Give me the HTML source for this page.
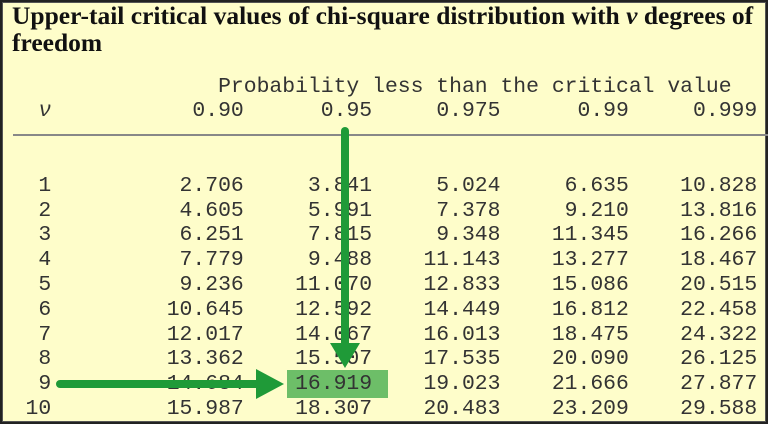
<!DOCTYPE html>
<html><head><style>
html,body{margin:0;padding:0;}
body{width:768px;height:424px;overflow:hidden;background:#222;}
#box{position:absolute;left:2px;top:2px;width:762px;height:418px;background:#fefdca;border:1px solid #555;}
.title{position:absolute;left:12px;top:2px;font-family:"Liberation Serif","DejaVu Serif",serif;font-weight:bold;font-size:25.5px;line-height:27px;color:#111;width:752px;white-space:nowrap;}
pre{position:absolute;left:12.7px;top:74.6px;margin:0;font:21.4px/24.8px "Liberation Mono",monospace;color:#333;}
.rule{position:absolute;left:13px;top:134px;width:760px;height:2px;background:#888;}
.hl{position:absolute;left:287px;top:370px;width:101px;height:28px;background:#6dbe68;}
svg{position:absolute;left:0;top:0;}
</style></head><body>
<div id="box"></div>
<div class="title">Upper-tail critical values of chi-square distribution with <i>ν</i> degrees of<br>freedom</div>
<div class="rule"></div>
<div class="hl"></div>
<pre>                Probability less than the critical value
  <i>ν</i>           0.90      0.95     0.975      0.99     0.999


  1          2.706     3.841     5.024     6.635    10.828
  2          4.605     5.991     7.378     9.210    13.816
  3          6.251     7.815     9.348    11.345    16.266
  4          7.779     9.488    11.143    13.277    18.467
  5          9.236    11.070    12.833    15.086    20.515
  6         10.645    12.592    14.449    16.812    22.458
  7         12.017    14.067    16.013    18.475    24.322
  8         13.362    15.507    17.535    20.090    26.125
  9         14.684    16.919    19.023    21.666    27.877
 10         15.987    18.307    20.483    23.209    29.588</pre>
<svg width="768" height="424">
<line x1="345" y1="131" x2="345" y2="345" stroke="#1f9a38" stroke-width="8" stroke-linecap="round"/>
<polygon points="330,343 360,343 345,368" fill="#1f9a38"/>
<line x1="60" y1="384" x2="258" y2="384" stroke="#1f9a38" stroke-width="8" stroke-linecap="round"/>
<polygon points="256,369 256,399 284,384" fill="#1f9a38"/>
</svg>
</body></html>
